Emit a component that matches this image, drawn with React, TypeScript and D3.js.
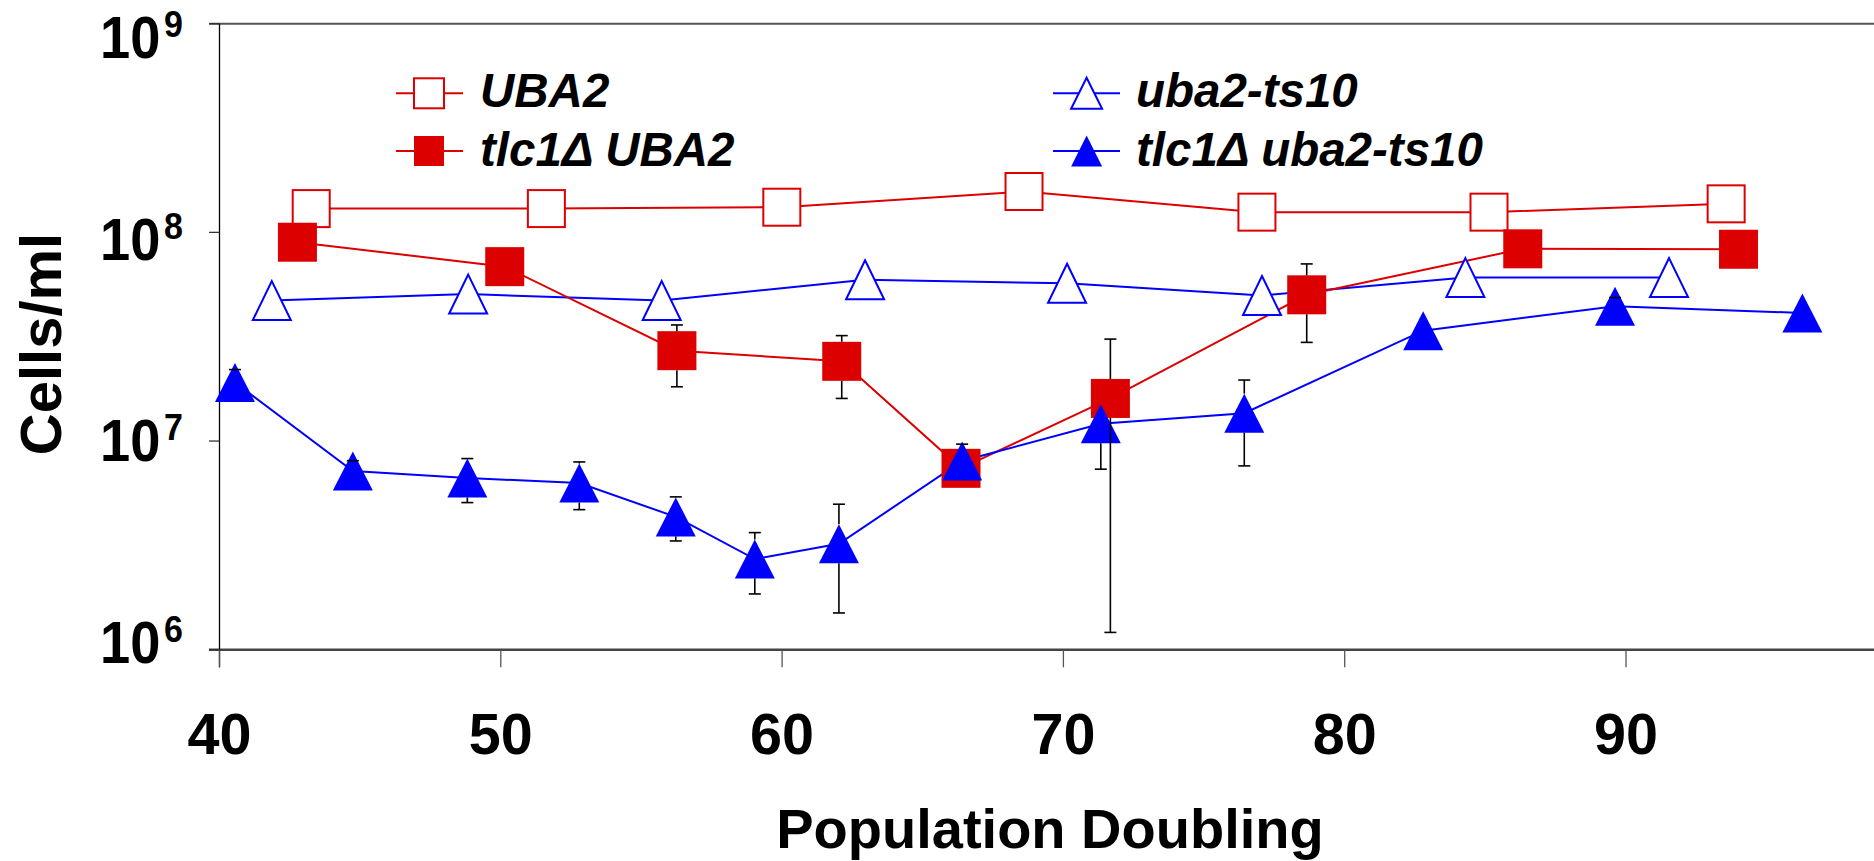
import React from 'react';
import * as d3 from 'd3';

const xTicks = [40, 50, 60, 70, 80, 90];
const yTickExps = [9, 8, 7, 6];

const uba2X = [43.26, 51.62, 59.99, 68.6, 76.88, 85.13, 93.56];
const uba2Y = [1.3e8, 1.3e8, 1.32e8, 1.57e8, 1.25e8, 1.25e8, 1.37e8];

const tlcUba2X = [42.77, 50.14, 56.26, 62.12, 66.36, 71.67, 78.65, 86.33, 94.0];
const tlcUba2Y = [8.97e7, 6.85e7, 2.71e7, 2.41e7, 7.4e6, 1.6e7, 5.02e7, 8.34e7, 8.3e7];
const tlcUba2Lo = [null, null, 1.82e7, 1.6e7, null, 1.21e6, 2.97e7, null, null];
const tlcUba2Hi = [null, null, 3.6e7, 3.2e7, null, 3.08e7, 7.06e7, null, null];

const ts10X = [41.86, 48.84, 55.72, 62.95, 70.13, 77.06, 84.29, 91.53];
const ts10Y = [4.71e7, 5.06e7, 4.71e7, 5.93e7, 5.7e7, 4.98e7, 6.07e7, 6.07e7];

const tlcTs10X = [40.55, 44.74, 48.81, 52.79, 56.22, 59.03, 62.02, 66.4, 71.33, 76.43, 82.79, 89.61, 96.27];
const tlcTs10Y = [1.91e7, 7.18e6, 6.65e6, 6.29e6, 4.33e6, 2.72e6, 3.22e6, 8.02e6, 1.21e7, 1.36e7, 3.38e7, 4.43e7, 4.11e7];
const tlcTs10Lo = [null, null, 5.07e6, 4.69e6, 3.32e6, 1.85e6, 1.5e6, null, 7.33e6, 7.6e6, null, null, null];
const tlcTs10Hi = [2.2e7, 8.05e6, 8.24e6, 7.94e6, 5.4e6, 3.64e6, 4.98e6, 9.66e6, null, 1.96e7, null, 4.87e7, null];

const RED = '#dc0000';
const BLUE = '#0000ff';
const FONT = '"Liberation Sans", Arial, Helvetica, sans-serif';

type Pt = [number, number];

function zip(xs: number[], ys: number[]): Pt[] {
  return xs.map((v, i) => [v, ys[i]] as Pt);
}

function Square({ cx, cy, s, filled }: { cx: number; cy: number; s: number; filled: boolean }) {
  return (
    <rect
      x={cx - s / 2}
      y={cy - s / 2}
      width={s}
      height={s}
      fill={filled ? RED : '#fff'}
      stroke={RED}
      strokeWidth={filled ? 0 : 2}
    />
  );
}

function Tri({ cx, cy, w, h, filled }: { cx: number; cy: number; w: number; h: number; filled: boolean }) {
  const p = `M${cx},${cy - h / 2}L${cx + w / 2},${cy + h / 2}L${cx - w / 2},${cy + h / 2}Z`;
  return <path d={p} fill={filled ? BLUE : '#fff'} stroke={BLUE} strokeWidth={filled ? 0 : 2} strokeLinejoin="miter" />;
}

export default function App() {
  const W = 1874;
  const H = 861;
  const x = d3.scaleLinear().domain([40, 100]).range([219.5, 1907.3]);
  const y = d3.scaleLog().domain([1e6, 1e9]).range([649.7, 23.7]);
  const yLabelBase = d3.scaleLinear().domain([9, 6]).range([58.3, 662.7]);
  const line = d3
    .line<Pt>()
    .x((d) => x(d[0]))
    .y((d) => y(d[1]));

  const axisLeft = x(40);
  const axisBottom = y(1e6);
  const axisTop = y(1e9);

  // error bars start at the marker's edge (marker hides the inner part)
  const errBars = (
    xs: number[],
    ys: number[],
    lo: (number | null)[],
    hi: (number | null)[],
    upOff: number,
    downOff: number,
    key: string
  ) =>
    xs.map((v, i) => {
      const cx = x(v);
      const cy = y(ys[i]);
      const els: React.ReactNode[] = [];
      if (hi[i] != null) {
        const yh = y(hi[i] as number);
        const y0 = cy - upOff;
        if (yh < y0) els.push(<line key={`${key}h${i}`} x1={cx} x2={cx} y1={y0} y2={yh} stroke="#000" strokeWidth={1.6} />);
        els.push(<line key={`${key}hc${i}`} x1={cx - 6} x2={cx + 6} y1={yh} y2={yh} stroke="#000" strokeWidth={1.6} />);
      }
      if (lo[i] != null) {
        const yl = y(lo[i] as number);
        const y0 = cy + downOff;
        if (yl > y0) els.push(<line key={`${key}l${i}`} x1={cx} x2={cx} y1={y0} y2={yl} stroke="#000" strokeWidth={1.6} />);
        els.push(<line key={`${key}lc${i}`} x1={cx - 6} x2={cx + 6} y1={yl} y2={yl} stroke="#000" strokeWidth={1.6} />);
      }
      return els;
    });

  const legendRows = [
    { lx: 396, rx: 463, mx: 429, ty: 93.3, tx: 480, base: 107.3, label: 'UBA2', kind: 'sq', filled: false, color: RED },
    { lx: 396, rx: 463, mx: 429, ty: 151, tx: 480, base: 165.7, label: 'tlc1Δ UBA2', kind: 'sq', filled: true, color: RED },
    { lx: 1053, rx: 1120, mx: 1086.6, ty: 93.3, tx: 1136, base: 107.3, label: 'uba2-ts10', kind: 'tri', filled: false, color: BLUE },
    { lx: 1053, rx: 1120, mx: 1086.6, ty: 151, tx: 1136, base: 165.7, label: 'tlc1Δ uba2-ts10', kind: 'tri', filled: true, color: BLUE },
  ];

  return (
    <svg
      width={W}
      height={H}
      viewBox={`0 0 ${W} ${H}`}
      style={{ position: 'absolute', left: 0, top: 0, background: '#fff' }}
      fontFamily={FONT}
    >
      <rect x={0} y={0} width={W} height={H} fill="#fff" />
      {/* frame / axes */}
      <line x1={209} x2={W} y1={axisTop} y2={axisTop} stroke="#555" strokeWidth={2} />
      <line x1={209} x2={W} y1={axisBottom} y2={axisBottom} stroke="#444" strokeWidth={2.5} />
      <line x1={axisLeft} x2={axisLeft} y1={axisTop} y2={axisBottom + 17.6} stroke="#000" strokeWidth={1.3} />
      {yTickExps.map((e) => (
        <line key={`yt${e}`} x1={209} x2={axisLeft} y1={y(Math.pow(10, e))} y2={y(Math.pow(10, e))} stroke="#333" strokeWidth={1.3} />
      ))}
      {xTicks.map((t) => (
        <line key={`xt${t}`} x1={x(t)} x2={x(t)} y1={axisBottom} y2={axisBottom + 17.6} stroke="#555" strokeWidth={1.3} />
      ))}
      {xTicks.map((t) => (
        <text key={`xl${t}`} x={x(t)} y={754} textAnchor="middle" fontSize={57.5} fontWeight="bold" fill="#000">
          {t}
        </text>
      ))}
      {yTickExps.map((e) => (
        <g key={`yl${e}`} transform={`translate(183,${yLabelBase(e)}) scale(0.92,1)`}>
          <text x={0} y={0} textAnchor="end" fontSize={59} fontWeight="bold" fill="#000">
            10
            <tspan dx={4} dy={-21} fontSize={37}>
              {e}
            </tspan>
          </text>
        </g>
      ))}
      <text x={1050} y={848} textAnchor="middle" fontSize={56} fontWeight="bold" fill="#000">
        Population Doubling
      </text>
      <text transform="translate(61,344) rotate(-90)" textAnchor="middle" fontSize={58} fontWeight="bold" fill="#000">
        Cells/ml
      </text>

      {/* series lines */}
      <path d={line(zip(uba2X, uba2Y)) || ''} fill="none" stroke={RED} strokeWidth={2} />
      <path d={line(zip(ts10X, ts10Y)) || ''} fill="none" stroke={BLUE} strokeWidth={2} />
      <path d={line(zip(tlcUba2X, tlcUba2Y)) || ''} fill="none" stroke={RED} strokeWidth={2} />
      <path d={line(zip(tlcTs10X, tlcTs10Y)) || ''} fill="none" stroke={BLUE} strokeWidth={2} />

      {/* UBA2 open squares */}
      {uba2X.map((v, i) => (
        <Square key={`u${i}`} cx={x(v)} cy={y(uba2Y[i])} s={37} filled={false} />
      ))}
      {/* uba2-ts10 open triangles */}
      {ts10X.map((v, i) => (
        <Tri key={`t${i}`} cx={x(v)} cy={y(ts10Y[i])} w={38} h={39} filled={false} />
      ))}
      {/* tlc1 UBA2 */}
      {tlcUba2X.map((v, i) => (
        <Square key={`tu${i}`} cx={x(v)} cy={y(tlcUba2Y[i])} s={39} filled={true} />
      ))}
      {/* tlc1 uba2-ts10 */}
      {tlcTs10X.map((v, i) => (
        <Tri key={`tt${i}`} cx={x(v)} cy={y(tlcTs10Y[i])} w={40} h={39} filled={true} />
      ))}
      {/* error bars on top, starting at marker edges */}
      {errBars(tlcUba2X, tlcUba2Y, tlcUba2Lo, tlcUba2Hi, 19.5, 19.5, 'ru')}
      {errBars(tlcTs10X, tlcTs10Y, tlcTs10Lo, tlcTs10Hi, 19.5, 19.5, 'bt')}

      {/* legend */}
      {legendRows.map((r, i) => (
        <g key={`lg${i}`}>
          <line x1={r.lx} x2={r.rx} y1={r.ty} y2={r.ty} stroke={r.color} strokeWidth={2} />
          {r.kind === 'sq' ? (
            <Square cx={r.mx} cy={r.ty} s={30} filled={r.filled} />
          ) : (
            <Tri cx={r.mx} cy={r.ty} w={31} h={31} filled={r.filled} />
          )}
          <text x={r.tx} y={r.base} fontSize={47.5} fontWeight="bold" fontStyle="italic" fill="#000">
            {r.label}
          </text>
        </g>
      ))}
    </svg>
  );
}
